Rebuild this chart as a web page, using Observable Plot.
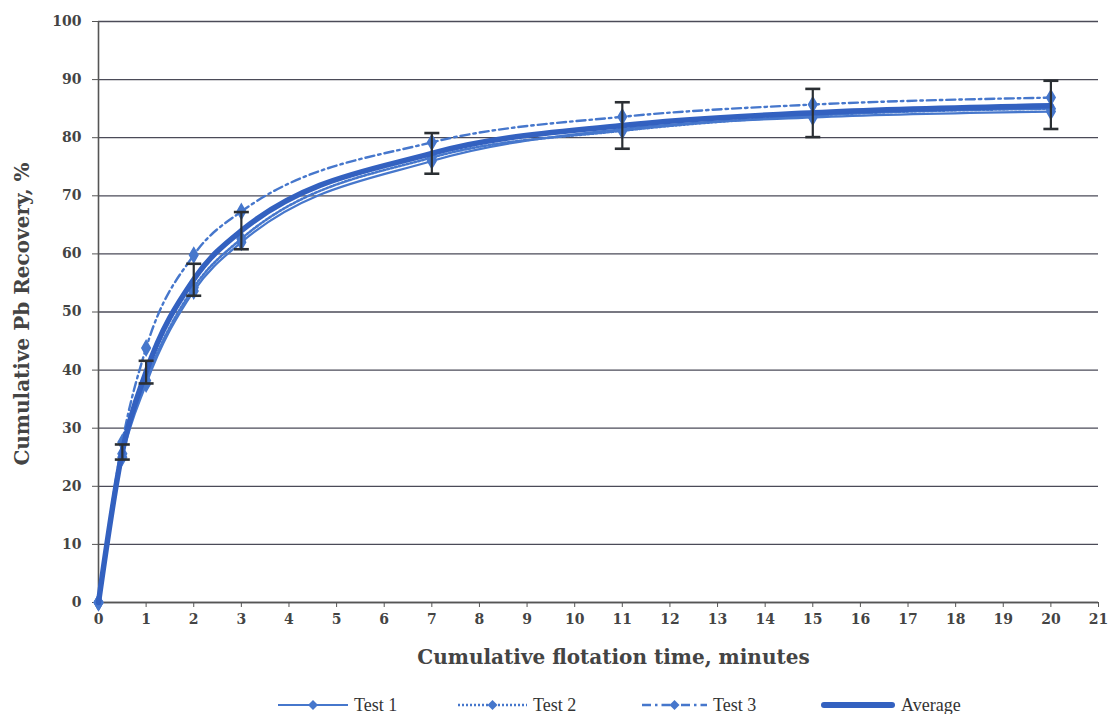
<!DOCTYPE html>
<html>
<head>
<meta charset="utf-8">
<script src="https://cdn.jsdelivr.net/npm/d3@7"></script>
<script src="https://cdn.jsdelivr.net/npm/@observablehq/plot@0.6"></script>
<style>
  body { margin: 0; background: #fff; font-family: "Liberation Serif", serif; }
  #chart { position: relative; width: 1109px; height: 714px; overflow: hidden; }
  .legend { position: absolute; top: 693px; left: 0; width: 1109px; height: 24px; }
  .legend .item { position: absolute; top: 0; display: flex; align-items: center; height: 24px; }
  .legend span { font-size: 18px; color: #333; margin-left: 6px; }
</style>
</head>
<body>
<div id="chart"></div>
<script>
const times = [0, 0.5, 1, 2, 3, 7, 11, 15, 20];
const test1 = [0, 25.0, 37.6, 53.6, 62.0, 76.0, 81.5, 83.5, 84.5];
const test2 = [0, 25.6, 38.2, 54.2, 62.6, 76.6, 81.2, 83.8, 85.0];
const test3 = [0, 27.6, 43.8, 59.8, 67.3, 79.2, 83.6, 85.7, 86.9];
const average = [0, 26.0, 39.7, 55.6, 64.0, 77.3, 82.1, 84.3, 85.5];
const errLow = [0, 24.6, 37.7, 52.8, 60.8, 73.8, 78.1, 80.1, 81.5];
const errHigh = [0, 27.2, 41.6, 58.3, 67.2, 80.8, 86.1, 88.4, 89.8];
const xTicks = d3.range(0, 22);
const yTicks = d3.range(0, 101, 10);
const seriesNames = ["Test 1", "Test 2", "Test 3", "Average"];

const pts = (vals) => times.map((t, i) => ({t, v: vals[i]}));
const errs = times.map((t, i) => ({t, lo: errLow[i], hi: errHigh[i]})).filter(d => d.t > 0);

const blue = "#4677cc";
const dark = "#3361c0";
const capSymbol = {draw(ctx, size) { const w = 7.5; ctx.moveTo(-w, 0); ctx.lineTo(w, 0); }};

const styles = {
  "Test 1": {dash: null, w: 2.2},
  "Test 2": {dash: "2,2", w: 2.6},
  "Test 3": {dash: "9,4,2.5,4", w: 2.4}
};
const testData = {"Test 1": test1, "Test 2": test2, "Test 3": test3};
const axisFont = "'DejaVu Serif', serif";

const marks = [
  Plot.gridY(yTicks, {stroke: "#4b4b58", strokeOpacity: 1, strokeWidth: 1.3}),
  Plot.ruleX([0], {stroke: "#555", strokeWidth: 1.6}),
  Plot.ruleY([0], {stroke: "#555", strokeWidth: 1.6}),
  Plot.axisX({ticks: xTicks, tickSize: 5, tickPadding: 7, stroke: "#555", fontSize: 14, fontWeight: "bold", fill: "#444", label: null}),
  Plot.axisY({ticks: yTicks, tickSize: 6, tickPadding: 11, stroke: "#555", fontSize: 14, fontWeight: "bold", fill: "#444", label: null}),
  Plot.text(["Cumulative flotation time, minutes"], {frameAnchor: "bottom", dy: 61, dx: 15, fontSize: 20, fontWeight: "bold", fill: "#444"}),
  Plot.text(["Cumulative Pb Recovery, %"], {frameAnchor: "left", dx: -76, dy: 2, rotate: -90, textAnchor: "middle", fontSize: 20, fontWeight: "bold", fill: "#444"}),
];
for (const name of ["Test 1", "Test 2", "Test 3"]) {
  const s = styles[name];
  marks.push(Plot.line(pts(testData[name]), {x: "t", y: "v", curve: "monotone-x", stroke: blue, strokeWidth: s.w, strokeDasharray: s.dash}));
  marks.push(Plot.dot(pts(testData[name]), {x: "t", y: "v", symbol: "diamond", r: 4.5, fill: blue, stroke: blue}));
}
marks.push(Plot.line(pts(average), {x: "t", y: "v", curve: "monotone-x", stroke: dark, strokeWidth: 5.5}));
marks.push(Plot.ruleX(errs, {x: "t", y1: "lo", y2: "hi", stroke: "#2b2f33", strokeWidth: 2.2}));
marks.push(Plot.dot(errs, {x: "t", y: "lo", symbol: capSymbol, stroke: "#2b2f33", strokeWidth: 2.6, fill: "none"}));
marks.push(Plot.dot(errs, {x: "t", y: "hi", symbol: capSymbol, stroke: "#2b2f33", strokeWidth: 2.6, fill: "none"}));

const chart = Plot.plot({
  width: 1109,
  height: 680,
  marginLeft: 98,
  marginRight: 11,
  marginTop: 21,
  marginBottom: 78,
  x: {domain: [0, 21]},
  y: {domain: [0, 100]},
  style: {fontFamily: axisFont, background: "#fff"},
  marks
});
document.getElementById("chart").appendChild(chart);

// Legend
const legend = document.createElement("div");
legend.className = "legend";
const legendPos = [278, 458, 642, 821];
const sampleW = [70, 69, 65, 74];
seriesNames.forEach((name, i) => {
  const item = document.createElement("div");
  item.className = "item";
  item.style.left = legendPos[i] + "px";
  const w = sampleW[i];
  let svg;
  if (name === "Average") {
    svg = `<svg width="${w}" height="14"><line x1="3" y1="7" x2="${w-3}" y2="7" stroke="${dark}" stroke-width="6" stroke-linecap="round"/></svg>`;
  } else {
    const s = styles[name];
    svg = `<svg width="${w}" height="14"><line x1="0" y1="7" x2="${w}" y2="7" stroke="${blue}" stroke-width="${s.w}" ${s.dash ? `stroke-dasharray="${s.dash}"` : ""}/><path d="M${w/2} 2 L${w/2+5} 7 L${w/2} 12 L${w/2-5} 7 Z" fill="${blue}"/></svg>`;
  }
  item.innerHTML = svg + `<span>${name}</span>`;
  legend.appendChild(item);
});
document.getElementById("chart").appendChild(legend);
</script>
</body>
</html>
